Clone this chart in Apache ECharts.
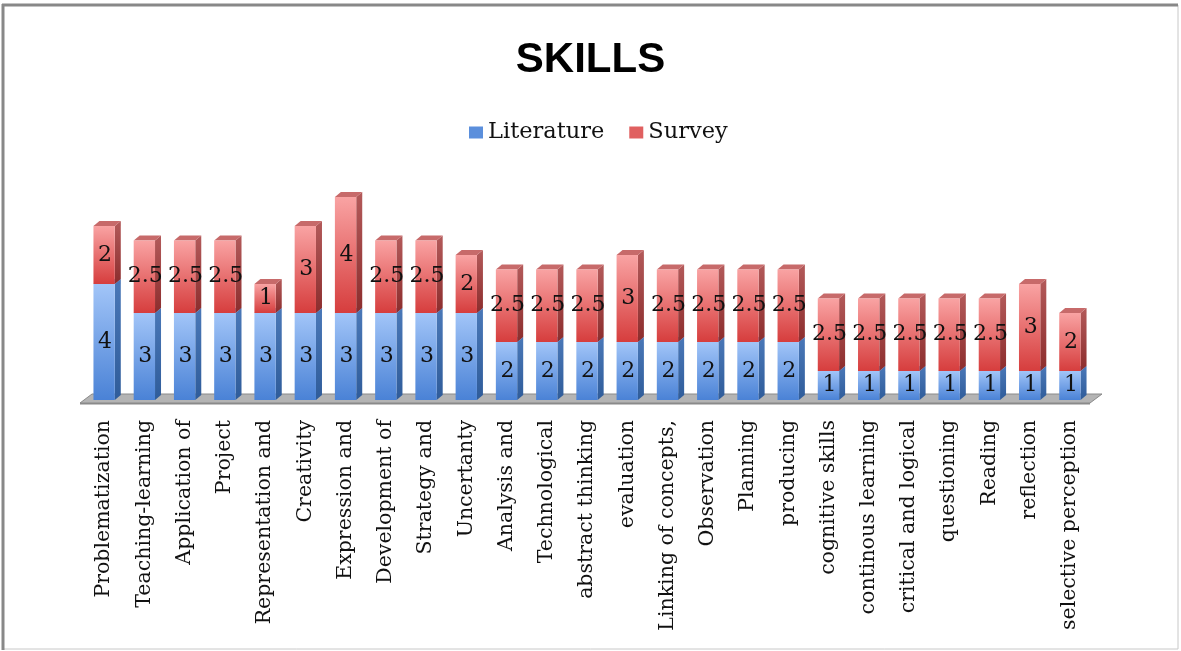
<!DOCTYPE html>
<html>
<head>
<meta charset="utf-8">
<script src="https://cdn.jsdelivr.net/npm/echarts@6/dist/echarts.min.js"></script>
<style>html,body{margin:0;padding:0;background:#fff}#c{width:1181px;height:651px}</style>
</head>
<body>
<div id="c"></div>
<script>
const categories = ["Problematization","Teaching-learning","Application of","Project","Representation and","Creativity","Expression and","Development of","Strategy and","Uncertanty","Analysis and","Technological","abstract thinking","evaluation","Linking of concepts,","Observation","Planning","producing","cognitive skills","continous learning","critical and logical","questioning","Reading","reflection","selective perception"];
const literature = [4,3,3,3,3,3,3,3,3,3,2,2,2,2,2,2,2,2,1,1,1,1,1,1,1];
const survey = [2,2.5,2.5,2.5,1,3,4,2.5,2.5,2,2.5,2.5,2.5,3,2.5,2.5,2.5,2.5,2.5,2.5,2.5,2.5,2.5,3,2];

const litData = literature.map((v,i)=>[i,0,v]);
const surData = survey.map((v,i)=>[i,literature[i],literature[i]+v]);

const palettes = {
  lit: {front:['#a2c5f8','#4a82d6'], side:['#4a78b8','#2f5c9a'], top:'#6f9ce0'},
  sur: {front:['#f9a3a3','#d63d3d'], side:['#b35a5a','#8c2d2d'], top:'#c76a6a'}
};
function grad(c){return {type:'linear',x:0,y:0,x2:0,y2:1,colorStops:[{offset:0,color:c[0]},{offset:1,color:c[1]}]};}

function makeRender(pal){
  return function(params, api){
    const i = api.value(0), v0 = api.value(1), v1 = api.value(2);
    const p0 = api.coord([i, v0]), p1 = api.coord([i, v1]);
    const band = api.size([1,0])[0];
    const w = band*0.53, x = p0[0]-w/2, dx = 6, dy = 5;
    const yT = p1[1], yB = p0[1];
    const val = Math.round((v1-v0)*10)/10;
    return {type:'group', children:[
      {type:'polygon', shape:{points:[[x+w,yT],[x+w+dx,yT-dy],[x+w+dx,yB-dy],[x+w,yB]]}, style:{fill:grad(pal.side)}},
      {type:'polygon', shape:{points:[[x,yT],[x+dx,yT-dy],[x+w+dx,yT-dy],[x+w,yT]]}, style:{fill:pal.top}},
      {type:'rect', shape:{x:x, y:yT, width:w, height:yB-yT}, style:{fill:grad(pal.front)}},
      {type:'text', x:p0[0]+1, y:(yT+yB)/2, style:{text:String(val), fill:'#111', font:'22px "DejaVu Serif"', align:'center', verticalAlign:'middle'}, z2:10}
    ]};
  };
}

const chart = echarts.init(document.getElementById('c'));
chart.setOption({
  backgroundColor:'#fff',
  animation:false,
  title:{text:'SKILLS', left:'center', top:34, textStyle:{fontFamily:'"Liberation Sans"', fontWeight:'bold', fontSize:42, color:'#000'}},
  legend:{top:116, left:464, itemWidth:14, itemHeight:12, itemGap:25, icon:'rect',
    textStyle:{fontFamily:'"DejaVu Serif"', fontSize:22.5, color:'#111'},
    data:['Literature','Survey']},
  grid:{left:84, right:91, top:168, bottom:251},
  xAxis:{type:'category', data:categories, boundaryGap:true,
    axisLine:{show:false}, axisTick:{show:false},
    axisLabel:{interval:0, rotate:90, margin:20, fontFamily:'"DejaVu Serif"', fontSize:20.5, color:'#111'}},
  yAxis:{type:'value', min:0, max:8, show:false, splitLine:{show:false}},
  graphic:[
    {type:'rect', shape:{x:3,y:5,width:1175,height:644}, style:{fill:'none', stroke:'#c8c8c8', lineWidth:1}, silent:true},
    {type:'line', shape:{x1:2,y1:5,x2:1178,y2:5}, style:{stroke:'#888', lineWidth:3}, silent:true},
    {type:'line', shape:{x1:3,y1:4,x2:3,y2:650}, style:{stroke:'#888', lineWidth:3}, silent:true}
  ],
  series:[
    {type:'custom', name:'floor', silent:true, data:[[0]], encode:{x:0},
     renderItem:function(params, api){
       const a = api.coord([0,0]), b = api.coord([categories.length-1,0]);
       const band = api.size([1,0])[0];
       const xl = a[0]-band/2-4, xr = b[0]+band/2, y = a[1];
       return {type:'group', children:[
         {type:'polygon', shape:{points:[[xl,y+3],[xl+12,y-6],[xr+12,y-6],[xr,y+3]]}, style:{fill:'#b4b4b4', stroke:'#8a8a8a', lineWidth:1}},
         {type:'rect', shape:{x:xl, y:y+3, width:xr-xl, height:1.5}, style:{fill:'#8a8a8a'}}
       ]};
     }, z:1},
    {type:'custom', name:'Literature', data:litData, encode:{x:0, y:[1,2]}, itemStyle:{color:'#5b8fdc'}, renderItem:makeRender(palettes.lit), z:2},
    {type:'custom', name:'Survey', data:surData, encode:{x:0, y:[1,2]}, itemStyle:{color:'#e06060'}, renderItem:makeRender(palettes.sur), z:3}
  ]
});
</script>
</body>
</html>
